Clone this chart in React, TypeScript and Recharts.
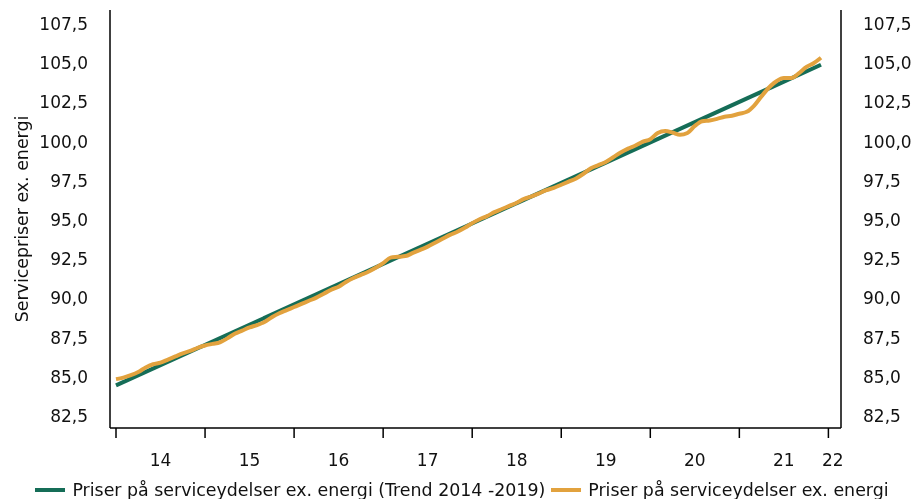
import React from 'react';
import { LineChart, Line, XAxis, YAxis, Legend } from 'recharts';

// Monthly observations, Jan 2014 .. Dec 2021
const startYear = 2014;
const priceValues = [
  84.85, 84.95, 85.1, 85.3, 85.6, 85.8, 85.9, 86.1, 86.3, 86.5, 86.65, 86.85,
  87.0, 87.1, 87.2, 87.45, 87.75, 87.95, 88.15, 88.3, 88.5, 88.8, 89.05, 89.25,
  89.45, 89.65, 89.85, 90.05, 90.3, 90.55, 90.75, 91.05, 91.3, 91.5, 91.7, 91.95,
  92.25, 92.6, 92.65, 92.7, 92.9, 93.1, 93.3, 93.55, 93.8, 94.05, 94.25, 94.5,
  94.8, 95.05, 95.25, 95.5, 95.7, 95.9, 96.1, 96.35, 96.5, 96.7, 96.9, 97.05,
  97.25, 97.45, 97.65, 97.95, 98.3, 98.5, 98.7, 99.0, 99.3, 99.55, 99.75, 100.0,
  100.15, 100.55, 100.68, 100.58, 100.43, 100.55, 101.0, 101.3, 101.35, 101.45, 101.58, 101.65,
  101.78, 101.9, 102.3, 102.9, 103.45, 103.85, 104.05, 104.05, 104.35, 104.75, 105.0, 105.35,
];
// Trend 2014-2019 (straight line, start and end months)
const trendMonths = [0, 95];
const trendValues = [84.45, 104.9];

const yearTicks = [2014, 2015, 2016, 2017, 2018, 2019, 2020, 2021, 2022];
const labelPositions = [2014.5, 2015.5, 2016.5, 2017.5, 2018.5, 2019.5, 2020.5, 2021.5, 2022.05];
const labelTexts = ['14', '15', '16', '17', '18', '19', '20', '21', '22'];
const yTicks = [82.5, 85, 87.5, 90, 92.5, 95, 97.5, 100, 102.5, 105, 107.5];

const seriesNames = [
  'Priser på serviceydelser ex. energi (Trend 2014 -2019)',
  'Priser på serviceydelser ex. energi',
];
const yTitle = 'Servicepriser ex. energi';

const GREEN = '#156d57';
const ORANGE = '#e2a23e';
const FONT = "'DejaVu Sans', sans-serif";

const priceData = priceValues.map((v, i) => ({ x: startYear + i / 12, price: v }));
const trendData = trendMonths.map((m, i) => ({ x: startYear + m / 12, trend: trendValues[i] }));

const fmtY = (v: number) => v.toFixed(1).replace('.', ',');
const xTicks = [...yearTicks, ...labelPositions].sort((a, b) => a - b);

const XTick = (props: any) => {
  const { x, y, payload } = props;
  const v = payload.value;
  if (yearTicks.some((t) => Math.abs(t - v) < 1e-6)) {
    return <line x1={x} x2={x} y1={y} y2={y + 10} stroke="#000" strokeWidth={1.5} />;
  }
  const i = labelPositions.findIndex((p) => Math.abs(p - v) < 1e-6);
  if (i < 0) return null;
  return (
    <text x={x} y={y + 38} textAnchor="middle" fontFamily={FONT} fontSize={17} fill="#111">
      {labelTexts[i]}
    </text>
  );
};

const renderLegend = (props: any) => {
  const payload = [...(props.payload || [])].sort(
    (a: any, b: any) => seriesNames.indexOf(a.value) - seriesNames.indexOf(b.value)
  );
  return (
    <div
      style={{
        display: 'flex',
        justifyContent: 'center',
        alignItems: 'center',
        height: 18,
        lineHeight: '18px',
        fontFamily: FONT,
        fontSize: 17.4,
        color: '#111',
        whiteSpace: 'nowrap',
      }}
    >
      {payload.map((e: any, i: number) => (
        <span key={i} style={{ display: 'inline-flex', alignItems: 'center', marginLeft: i ? 6 : 0 }}>
          <span style={{ display: 'inline-block', width: 30, height: 4, background: e.color, marginRight: 7 }} />
          {e.value}
        </span>
      ))}
    </div>
  );
};

const tickStyle = { fontFamily: FONT, fontSize: 17, fill: '#111' };
const xDomain = [2013.9326, 2022.1415];
const yDomain = [81.735, 108.393];

export default function App() {
  return (
    <div style={{ position: 'fixed', left: 8, top: 8 }}>
      <LineChart width={908} height={491} margin={{ top: 2, right: 0, bottom: 0, left: 0 }}>
        <XAxis
          type="number"
          dataKey="x"
          domain={xDomain}
          allowDataOverflow
          ticks={xTicks}
          interval={0}
          tick={<XTick />}
          tickLine={false}
          tickSize={0}
          tickMargin={0}
          height={53}
          axisLine={{ stroke: '#000', strokeWidth: 1.5 }}
        />
        <YAxis
          yAxisId="left"
          domain={yDomain}
          allowDataOverflow
          ticks={yTicks}
          interval={0}
          tickFormatter={fmtY}
          width={102}
          tickLine={false}
          tickSize={6}
          tickMargin={16}
          axisLine={{ stroke: '#000', strokeWidth: 1.5 }}
          tick={tickStyle}
          label={{
            value: yTitle,
            angle: -90,
            position: 'insideLeft',
            offset: 14,
            style: { textAnchor: 'middle', fontFamily: FONT, fontSize: 17.4, fill: '#111' },
          }}
        />
        <YAxis
          yAxisId="right"
          orientation="right"
          domain={yDomain}
          allowDataOverflow
          ticks={yTicks}
          interval={0}
          tickFormatter={fmtY}
          width={75}
          tickLine={false}
          tickSize={6}
          tickMargin={16}
          axisLine={{ stroke: '#000', strokeWidth: 1.5 }}
          tick={tickStyle}
        />
        <Legend verticalAlign="bottom" content={renderLegend} />
        <Line
          yAxisId="left"
          data={trendData}
          dataKey="trend"
          name={seriesNames[0]}
          stroke={GREEN}
          strokeWidth={4}
          dot={false}
          type="linear"
          isAnimationActive={false}
        />
        <Line
          yAxisId="right"
          data={priceData}
          dataKey="price"
          name={seriesNames[1]}
          stroke={ORANGE}
          strokeWidth={4}
          dot={false}
          type="monotone"
          isAnimationActive={false}
        />
      </LineChart>
    </div>
  );
}
